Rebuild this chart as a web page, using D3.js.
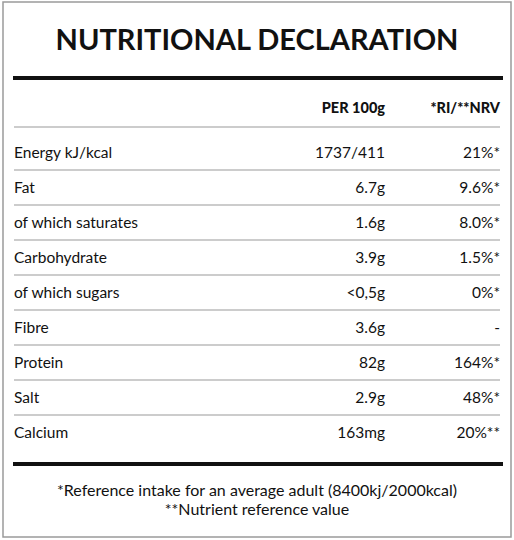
<!DOCTYPE html>
<html><head><meta charset="utf-8">
<script src="https://cdn.jsdelivr.net/npm/d3@7"></script>
<style>body{margin:0;background:#fff}</style>
</head><body><svg id="c"></svg>
<script>
const nutrients = ['Energy kJ/kcal','Fat','of which saturates','Carbohydrate','of which sugars','Fibre','Protein','Salt','Calcium'];
const per100g = ['1737/411','6.7g','1.6g','3.9g','<0,5g','3.6g','82g','2.9g','163mg'];
const riNrv = ['21%*','9.6%*','8.0%*','1.5%*','0%*','-','164%*','48%*','20%**'];
const headers = ['PER 100g','*RI/**NRV'];
const footnotes = ['*Reference intake for an average adult (8400kj/2000kcal)','**Nutrient reference value'];

const W = 514, H = 540;
const svg = d3.select('#c').attr('width', W).attr('height', H)
    .style('font-family', 'Lato, "DejaVu Sans", sans-serif');

svg.append('rect').attr('x', 3).attr('y', 2).attr('width', 508).attr('height', 535)
    .attr('fill', '#fff').attr('stroke', '#9a9a9a').attr('stroke-width', 1.5);

svg.append('text').attr('x', 257).attr('y', 50).attr('text-anchor', 'middle')
    .attr('font-size', 29).attr('font-weight', 700).attr('fill', '#111')
    .text('NUTRITIONAL DECLARATION');

svg.append('rect').attr('x', 13).attr('y', 76).attr('width', 490).attr('height', 4).attr('fill', '#111');

// row scale
const y = d3.scaleBand().domain(nutrients).range([135, 450]);
const colX = [385, 500];

svg.selectAll('.hd').data(headers).join('text')
    .attr('x', (d, i) => colX[i]).attr('y', 113).attr('text-anchor', 'end')
    .attr('font-size', 14.5).attr('font-weight', 900).attr('fill', '#111').text(d => d);

svg.append('line').attr('x1', 14).attr('x2', 500).attr('y1', 127).attr('y2', 127)
    .attr('stroke', '#999').attr('stroke-width', 1.2);

const rows = svg.selectAll('.row').data(nutrients).join('g')
    .attr('transform', d => `translate(0,${y(d) + y.bandwidth() / 2})`);
rows.append('text').attr('x', 14).attr('dy', '0.35em').attr('font-size', 15.5).attr('fill', '#111').text(d => d);
rows.append('text').attr('x', colX[0]).attr('dy', '0.35em').attr('text-anchor', 'end')
    .attr('font-size', 15.5).attr('fill', '#111').text((d, i) => per100g[i]);
rows.append('text').attr('x', colX[1]).attr('dy', '0.35em').attr('text-anchor', 'end')
    .attr('font-size', 15.5).attr('fill', '#111').text((d, i) => riNrv[i]);

svg.selectAll('.sep').data(nutrients.slice(0, -1)).join('line')
    .attr('x1', 14).attr('x2', 500)
    .attr('y1', d => y(d) + y.bandwidth()).attr('y2', d => y(d) + y.bandwidth())
    .attr('stroke', '#999').attr('stroke-width', 1.2);

svg.append('rect').attr('x', 13).attr('y', 462).attr('width', 490).attr('height', 4).attr('fill', '#111');

svg.selectAll('.fn').data(footnotes).join('text')
    .attr('x', 257).attr('y', (d, i) => 496 + i * 19).attr('text-anchor', 'middle')
    .attr('font-size', 16).attr('fill', '#111').text(d => d);
</script></body></html>
